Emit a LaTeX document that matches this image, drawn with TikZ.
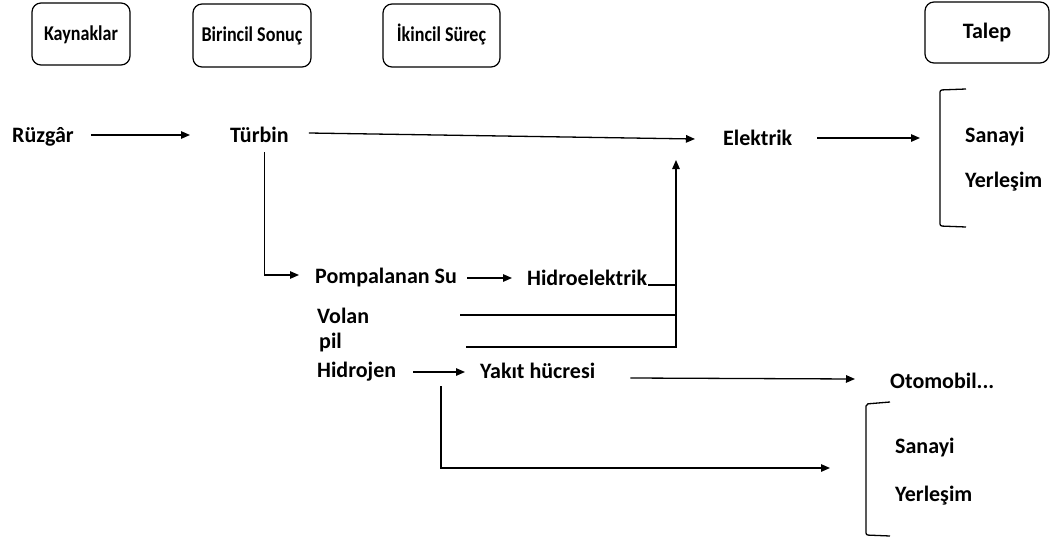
\documentclass[tikz,border=0pt]{standalone}
\usepackage{fontspec}
\setmainfont{Carlito}
\usetikzlibrary{arrows.meta}
\newcommand{\narrow}[1]{\scalebox{0.86}[1]{#1}}
\begin{document}
\begin{tikzpicture}[x=1pt,y=-1pt,
  lbl/.style={inner sep=0pt,anchor=west,text height=16pt,text depth=2pt,font=\fontsize{22}{24}\selectfont\bfseries},
  hbox/.style={draw,rounded corners=9pt,line width=1.2pt,inner sep=0pt,text height=15pt,text depth=3pt,font=\fontsize{21}{23}\selectfont\bfseries},
  arr/.style={line width=1.3pt,-{Triangle[length=9pt,width=7.5pt]}},
  ln/.style={line width=1.3pt}]
\useasboundingbox (0,0) rectangle (1053,541);
% header boxes
\node[hbox,minimum width=98pt,minimum height=62pt] (k) at (81,34) {\narrow{Kaynaklar}};
\node[hbox,minimum width=118pt,minimum height=63pt] (b) at (252,35.5) {\narrow{Birincil Sonuç}};
\node[hbox,minimum width=117pt,minimum height=63pt] (i) at (441.5,35.5) {\narrow{İkincil Süreç}};
\node[hbox,minimum width=124pt,minimum height=61pt,font=\fontsize{22}{24}\selectfont\bfseries] (t) at (987,32.5) {Talep};
% labels
\node[lbl] (rz) at (12,135) {Rüzgâr};
\node[lbl] (tb) at (230,135) {Türbin};
\node[lbl] (el) at (723,138) {Elektrik};
\node[lbl] (s1) at (965,135) {Sanayi};
\node[lbl] (y1) at (965,180) {Yerleşim};
\node[lbl] (ps) at (315,276) {Pompalanan Su};
\node[lbl] (he) at (527,278) {Hidroelektrik};
\node[lbl] (vo) at (317,316) {Volan};
\node[lbl] (pi) at (319,341) {pil};
\node[lbl] (hy) at (317,370) {Hidrojen};
\node[lbl] (yh) at (480,371) {Yakıt hücresi};
\node[lbl] (ot) at (890,381) {Otomobil...};
\node[lbl] (s2) at (895,446) {Sanayi};
\node[lbl] (y2) at (895,494) {Yerleşim};
% brackets
\coordinate (b1) at (940,138);
\coordinate (b2) at (866,468);
\draw[ln,rounded corners=2pt] (966,89) -- (940,90) -- (940,226) -- (966,227);
\draw[ln,rounded corners=2pt] (890,402) -- (866,404) -- (866,535) -- (890,536);
% junctions
\coordinate (jn) at (676,347);
\coordinate (tip) at (676,160);
\coordinate (hj) at (441,386);
% connectors
\draw[arr] ([xshift=17pt]rz.east) -- ([xshift=-40pt]tb.west);
\draw[arr] ([xshift=20pt,yshift=2pt]tb.east) -- ([xshift=-28pt,yshift=-1pt]el.west);
\draw[arr] ([xshift=25pt]el.east) -- ([xshift=-20pt]b1);
\draw[arr] ([xshift=5pt,yshift=-8pt]tb.south) |- ([xshift=-16pt,yshift=1pt]ps.west);
\draw[arr] ([xshift=10pt,yshift=-2pt]ps.east) -- ([xshift=-15pt]he.west);
\draw[ln] ([xshift=1pt,yshift=-7pt]he.east) -- ([yshift=-7pt]he.east -| jn);
\draw[ln] ([xshift=91pt,yshift=1pt]vo.east) -- ([yshift=1pt]vo.east -| jn);
\draw[arr] ([xshift=124pt,yshift=-6pt]pi.east) -- (jn) -- (tip);
\draw[arr] ([xshift=17pt,yshift=-2pt]hy.east) -- ([xshift=-15pt,yshift=-1pt]yh.west);
\draw[arr] ([xshift=35pt,yshift=-7pt]yh.east) -- ([xshift=-35pt,yshift=2pt]ot.west);
\draw[arr] (hj) |- ([xshift=-36pt]b2);
\end{tikzpicture}
\end{document}
